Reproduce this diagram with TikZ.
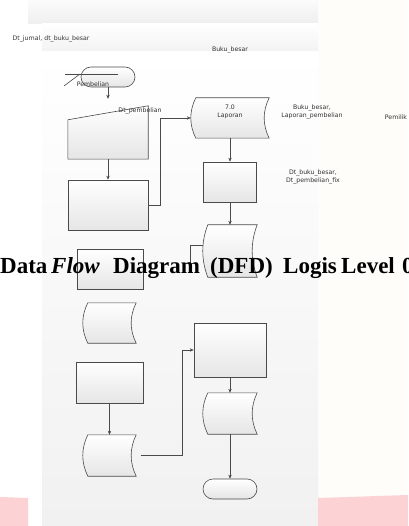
\documentclass[tikz,border=0pt]{standalone}
\usepackage{fontspec}
\usepackage{tikz}
\usetikzlibrary{arrows.meta,positioning,calc}
\newfontfamily\kecil{DejaVu Sans}
\newfontfamily\judul{Liberation Serif}
\definecolor{garisabu}{HTML}{4A4A4A}
\definecolor{krem}{HTML}{FEFDF9}
\definecolor{merahmuda}{HTML}{FDD2D5}

% outline of a stored data shape round a node
\newcommand{\simpanbentuk}[1]{%
  \draw[garis, top color=white, bottom color=gray!20]
    ($(#1.north west)+(5,0)$) -- (#1.north east)
    .. controls ($(#1.north east)!0.33!(#1.south east)+(-6.7,0)$) and ($(#1.north east)!0.67!(#1.south east)+(-6.7,0)$) .. (#1.south east)
    -- ($(#1.south west)+(5,0)$)
    .. controls ($(#1.south west)!0.33!(#1.north west)+(-1.7,0)$) and ($(#1.south west)!0.67!(#1.north west)+(-1.7,0)$) .. ($(#1.north west)+(5,0)$)
    -- cycle;}
% outline of a manual input shape round a node
\newcommand{\masukanbentuk}[1]{%
  \draw[garis, top color=white, bottom color=gray!20]
    (#1.south west) -- (#1.south east) -- (#1.north east) -- ($(#1.north west)+(0,14)$) -- cycle;}

\begin{document}
\begin{tikzpicture}[
    x=1pt, y=-1pt,
    garis/.style={draw=garisabu, line width=0.6pt},
    kotak/.style={rectangle, garis, top color=white, bottom color=gray!20, inner sep=0},
    ujungbulat/.style={kotak, rounded corners=10pt, minimum width=54pt, minimum height=20pt},
    tempat/.style={rectangle, inner sep=0},
    teks/.style={font=\kecil\fontsize{6.2}{7.8}\selectfont, text=black!80, align=center, inner sep=0},
    panah/.style={garis, -{Stealth[length=4pt,width=3.4pt]}},
    judulteks/.style={font=\judul\bfseries\fontsize{23}{25}\selectfont, anchor=base west, inner sep=0}
]
    \useasboundingbox (0,0) rectangle (408,526);
    \clip (0,0) rectangle (408,526);

    % Background
    \fill[white] (0,0) rectangle (408,526);
    \fill[krem] (318,0) rectangle (408,526);
    \shade[top color=gray!3, bottom color=gray!13] (28,0) rectangle (318,24);
    \shade[top color=white, bottom color=gray!10] (42,24) rectangle (318,52);
    \shade[top color=white, bottom color=gray!11] (42,52) rectangle (318,526);
    \fill[merahmuda] (0,497) -- (28,498) -- (28,526) -- (0,526) -- cycle;
    \fill[merahmuda] (318,498) -- (408,495) -- (408,526) -- (318,526) -- cycle;

    % Components
    \node[ujungbulat] (pembelian) at (108,77) {};
    \node[tempat, minimum width=80pt, minimum height=53pt] (masukan) at (108,132.5) {};
    \node[kotak, minimum width=80pt, minimum height=50pt] (olah) at (108,205) {};
    \node[tempat, minimum width=78pt, minimum height=40pt] (laporan) at (230,118) {};
    \node[kotak, minimum width=53pt, minimum height=40pt] (periksa) at (230,182) {};
    \node[tempat, minimum width=54pt, minimum height=52pt] (arsip) at (230,251) {};
    \node[kotak, minimum width=66pt, minimum height=40pt] (kotaka) at (110,269) {};
    \node[tempat, minimum width=53pt, minimum height=40pt] (arsipa) at (109.5,323) {};
    \node[kotak, minimum width=67pt, minimum height=41pt] (kotakb) at (109.5,382.5) {};
    \node[tempat, minimum width=53pt, minimum height=41pt] (arsipb) at (109.5,455.5) {};
    \node[kotak, minimum width=72pt, minimum height=54pt] (proses) at (230,350) {};
    \node[tempat, minimum width=54pt, minimum height=41pt] (arsipc) at (230,413.5) {};
    \node[ujungbulat] (selesai) at (230,489) {};

    \masukanbentuk{masukan}
    \simpanbentuk{laporan}
    \simpanbentuk{arsip}
    \simpanbentuk{arsipa}
    \simpanbentuk{arsipb}
    \simpanbentuk{arsipc}

    % entity marks
    \draw[garis] (65,74) -- (118,74);
    \draw[garis] (64,86) -- (80,74);

    % Arrows
    \coordinate (beloka) at (160,118);
    \coordinate (belokb) at (182,350);
    \coordinate (ujung) at (190,268);
    \draw[panah, shorten >=7pt] (pembelian) -- (masukan);
    \draw[panah] (masukan) -- (olah);
    \draw[panah] (olah.east) -| (beloka) -- (laporan.west);
    \draw[panah] (laporan) -- (periksa);
    \draw[panah] (periksa) -- (arsip);
    \draw[garis] (ujung) |- (arsip.168);
    \draw[panah] (kotakb) -- (arsipb);
    \draw[panah, shorten <=4.5pt] (arsipb.east) -| (belokb) -- (proses.west);
    \draw[panah] (proses) -- (arsipc);
    \draw[panah] (arsipc) -- (selesai);

    % Labels
    \node[teks] (tjurnal) at (51,39) {Dt\_jurnal, dt\_buku\_besar};
    \node[teks] (tbuku) at (230,50) {Buku\_besar};
    \node[teks] (tpembelian) at (93,84) {Pembelian};
    \node[teks] (tdtbeli) at (140,111) {Dt\_pembelian};
    \node[teks] (tlaporan) at (230,111.5) {7.0\\Laporan};
    \node[teks] (tbukulap) at (312,112) {Buku\_besar,\\Laporan\_pembelian};
    \node[teks] (tpemilik) at (396,117.5) {Pemilik};
    \node[teks] (tfix) at (313,176.5) {Dt\_buku\_besar,\\Dt\_pembelian\_fix};

    % Title
    \node[judulteks] (jdata) at (0,273) {Data};
    \node[judulteks] (jflow) at (51,273) {\itshape Flow};
    \node[judulteks] (jdiagram) at (113,273) {Diagram};
    \node[judulteks] (jdfd) at (210,273) {(DFD)};
    \node[judulteks] (jlogis) at (283,273) {Logis};
    \node[judulteks] (jlevel) at (341,273) {Level};
    \node[judulteks] (jnol) at (402,273) {0};
\end{tikzpicture}
\end{document}
